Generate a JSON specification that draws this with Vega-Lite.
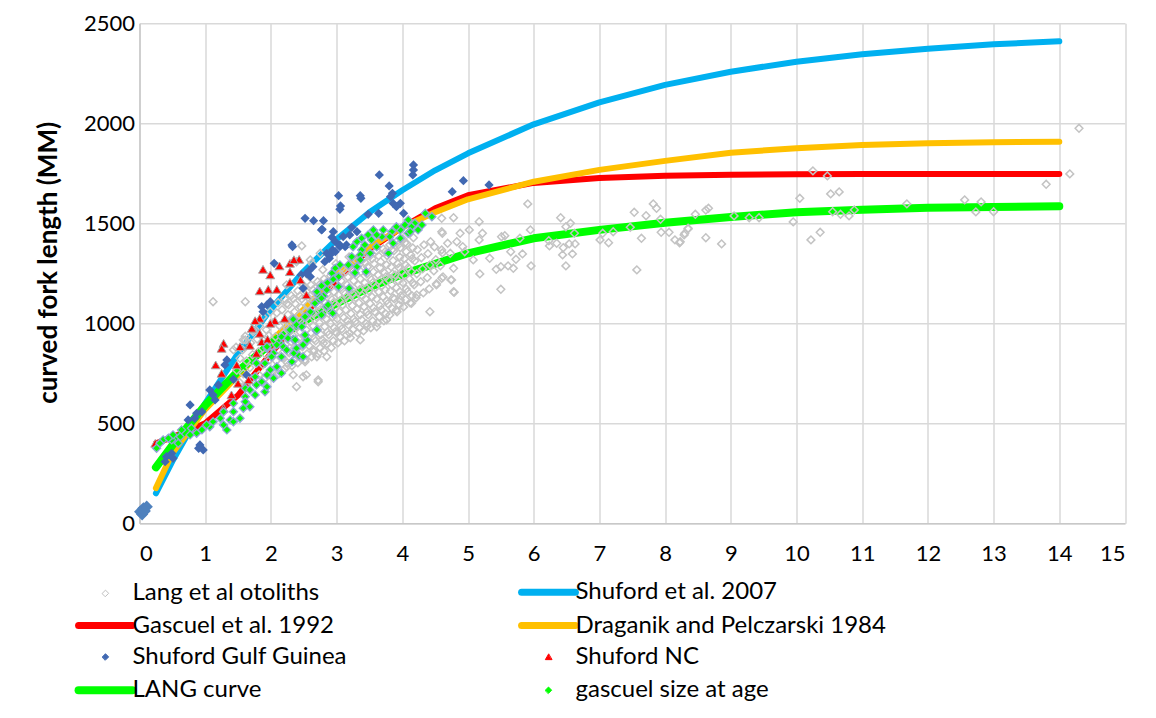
{
"$schema":"https://vega.github.io/schema/vega-lite/v6.json",
"width":985.5,"height":500,
"autosize":{"type":"none"},
"padding":{"left":139.5,"top":23.3,"right":31,"bottom":194.7},
"background":"#ffffff",
"config":{"font":"Lato","view":{"stroke":null},
"axis":{"grid":true,"gridColor":"#d9d9d9","gridWidth":1.5,"domainColor":"#c8c8c8","domainWidth":1.5,"ticks":false,"labelFontSize":22,"labelColor":"#000000","labelFont":"Lato"}},
"datasets":{
"lines":[
{"s":"Shuford et al. 2007","age":0.25,"fl":150},{"s":"Shuford et al. 2007","age":0.5,"fl":310},{"s":"Shuford et al. 2007","age":1,"fl":600},{"s":"Shuford et al. 2007","age":1.5,"fl":850},{"s":"Shuford et al. 2007","age":2,"fl":1070},{"s":"Shuford et al. 2007","age":2.5,"fl":1260},{"s":"Shuford et al. 2007","age":3,"fl":1420},{"s":"Shuford et al. 2007","age":3.5,"fl":1555},{"s":"Shuford et al. 2007","age":4,"fl":1665},{"s":"Shuford et al. 2007","age":4.5,"fl":1765},{"s":"Shuford et al. 2007","age":5,"fl":1850},{"s":"Shuford et al. 2007","age":6,"fl":1995},{"s":"Shuford et al. 2007","age":7,"fl":2105},{"s":"Shuford et al. 2007","age":8,"fl":2192},{"s":"Shuford et al. 2007","age":9,"fl":2258},{"s":"Shuford et al. 2007","age":10,"fl":2308},{"s":"Shuford et al. 2007","age":11,"fl":2345},{"s":"Shuford et al. 2007","age":12,"fl":2373},{"s":"Shuford et al. 2007","age":13,"fl":2395},{"s":"Shuford et al. 2007","age":14,"fl":2410},
{"s":"Gascuel et al. 1992","age":0.25,"fl":400},{"s":"Gascuel et al. 1992","age":0.5,"fl":430},{"s":"Gascuel et al. 1992","age":1,"fl":500},{"s":"Gascuel et al. 1992","age":1.5,"fl":640},{"s":"Gascuel et al. 1992","age":2,"fl":850},{"s":"Gascuel et al. 1992","age":2.5,"fl":1040},{"s":"Gascuel et al. 1992","age":3,"fl":1220},{"s":"Gascuel et al. 1992","age":3.5,"fl":1370},{"s":"Gascuel et al. 1992","age":4,"fl":1480},{"s":"Gascuel et al. 1992","age":4.5,"fl":1575},{"s":"Gascuel et al. 1992","age":5,"fl":1640},{"s":"Gascuel et al. 1992","age":6,"fl":1702},{"s":"Gascuel et al. 1992","age":7,"fl":1726},{"s":"Gascuel et al. 1992","age":8,"fl":1738},{"s":"Gascuel et al. 1992","age":9,"fl":1743},{"s":"Gascuel et al. 1992","age":10,"fl":1745},{"s":"Gascuel et al. 1992","age":11,"fl":1746},{"s":"Gascuel et al. 1992","age":12,"fl":1747},{"s":"Gascuel et al. 1992","age":13,"fl":1747},{"s":"Gascuel et al. 1992","age":14,"fl":1747},
{"s":"Draganik and Pelczarski 1984","age":0.25,"fl":176},{"s":"Draganik and Pelczarski 1984","age":0.5,"fl":350},{"s":"Draganik and Pelczarski 1984","age":1,"fl":570},{"s":"Draganik and Pelczarski 1984","age":1.5,"fl":740},{"s":"Draganik and Pelczarski 1984","age":2,"fl":910},{"s":"Draganik and Pelczarski 1984","age":2.5,"fl":1070},{"s":"Draganik and Pelczarski 1984","age":3,"fl":1240},{"s":"Draganik and Pelczarski 1984","age":3.5,"fl":1380},{"s":"Draganik and Pelczarski 1984","age":4,"fl":1480},{"s":"Draganik and Pelczarski 1984","age":4.5,"fl":1555},{"s":"Draganik and Pelczarski 1984","age":5,"fl":1620},{"s":"Draganik and Pelczarski 1984","age":6,"fl":1708},{"s":"Draganik and Pelczarski 1984","age":7,"fl":1767},{"s":"Draganik and Pelczarski 1984","age":8,"fl":1812},{"s":"Draganik and Pelczarski 1984","age":9,"fl":1853},{"s":"Draganik and Pelczarski 1984","age":10,"fl":1875},{"s":"Draganik and Pelczarski 1984","age":11,"fl":1892},{"s":"Draganik and Pelczarski 1984","age":12,"fl":1900},{"s":"Draganik and Pelczarski 1984","age":13,"fl":1905},{"s":"Draganik and Pelczarski 1984","age":14,"fl":1908},
{"s":"LANG curve","age":0.25,"fl":280},{"s":"LANG curve","age":0.5,"fl":390},{"s":"LANG curve","age":1,"fl":590},{"s":"LANG curve","age":1.5,"fl":760},{"s":"LANG curve","age":2,"fl":900},{"s":"LANG curve","age":2.5,"fl":1010},{"s":"LANG curve","age":3,"fl":1100},{"s":"LANG curve","age":3.5,"fl":1180},{"s":"LANG curve","age":4,"fl":1245},{"s":"LANG curve","age":4.5,"fl":1298},{"s":"LANG curve","age":5,"fl":1350},{"s":"LANG curve","age":6,"fl":1425},{"s":"LANG curve","age":7,"fl":1467},{"s":"LANG curve","age":8,"fl":1503},{"s":"LANG curve","age":9,"fl":1532},{"s":"LANG curve","age":10,"fl":1555},{"s":"LANG curve","age":11,"fl":1568},{"s":"LANG curve","age":12,"fl":1578},{"s":"LANG curve","age":13,"fl":1582},{"s":"LANG curve","age":14,"fl":1585}
],
"gray":[
{"age":8.46,"fl":1545},{"age":8.62,"fl":1566},{"age":8.66,"fl":1575},{"age":8.30,"fl":1450},{"age":8.35,"fl":1475},{"age":8.23,"fl":1408},{"age":8.62,"fl":1428},{"age":8.86,"fl":1397},{"age":9.05,"fl":1537},{"age":9.28,"fl":1528},{"age":9.43,"fl":1528},{"age":9.95,"fl":1507},{"age":10.05,"fl":1625},{"age":10.25,"fl":1762},{"age":10.47,"fl":1737},{"age":10.52,"fl":1647},{"age":10.65,"fl":1657},{"age":10.55,"fl":1558},{"age":10.67,"fl":1545},{"age":10.80,"fl":1537},{"age":10.88,"fl":1567},{"age":10.22,"fl":1417},{"age":10.36,"fl":1455},{"age":11.68,"fl":1597},{"age":12.56,"fl":1617},{"age":12.81,"fl":1607},{"age":12.73,"fl":1557},{"age":13.0,"fl":1558},{"age":13.80,"fl":1695},{"age":14.16,"fl":1747},{"age":14.30,"fl":1975},
{"age":5.91,"fl":1597},{"age":4.78,"fl":1528},{"age":5.17,"fl":1508},{"age":5.02,"fl":1467},{"age":5.22,"fl":1450},{"age":5.17,"fl":1417},{"age":4.61,"fl":1450},{"age":4.83,"fl":1408},{"age":4.69,"fl":1400},{"age":4.60,"fl":1367},{"age":4.73,"fl":1350},{"age":4.92,"fl":1383},{"age":5.08,"fl":1317},{"age":4.95,"fl":1358},{"age":4.78,"fl":1275},{"age":4.74,"fl":1217},{"age":4.79,"fl":1155},{"age":4.60,"fl":1225},{"age":5.18,"fl":1247},{"age":5.50,"fl":1170},{"age":5.43,"fl":1270},{"age":5.50,"fl":1283},{"age":5.65,"fl":1358},{"age":5.83,"fl":1347},{"age":5.73,"fl":1320},{"age":5.69,"fl":1275},{"age":5.61,"fl":1287},{"age":5.96,"fl":1287},{"age":5.95,"fl":1467},{"age":5.79,"fl":1425},{"age":5.51,"fl":1433},{"age":5.56,"fl":1438},{"age":5.33,"fl":1325},{"age":6.41,"fl":1528},{"age":6.56,"fl":1500},{"age":6.49,"fl":1483},{"age":6.23,"fl":1413},{"age":6.24,"fl":1387},{"age":6.35,"fl":1400},{"age":6.45,"fl":1378},{"age":6.54,"fl":1397},{"age":6.63,"fl":1397},{"age":6.59,"fl":1347},{"age":6.44,"fl":1342},{"age":6.49,"fl":1287},{"age":6.62,"fl":1450},{"age":7.01,"fl":1417},{"age":7.14,"fl":1403},{"age":7.05,"fl":1450},{"age":7.21,"fl":1458},{"age":7.47,"fl":1480},{"age":7.64,"fl":1425},{"age":7.57,"fl":1267},{"age":7.53,"fl":1555},{"age":7.71,"fl":1538},{"age":7.82,"fl":1597},{"age":7.87,"fl":1575},{"age":7.93,"fl":1520},{"age":7.94,"fl":1455},{"age":8.06,"fl":1455},{"age":8.15,"fl":1417},{"age":8.22,"fl":1403},{"age":8.29,"fl":1442},{"age":8.35,"fl":1472},
{"age":4.42,"fl":1058},{"age":4.78,"fl":1158},{"age":4.75,"fl":1217},{"age":4.52,"fl":1192},{"age":4.22,"fl":1142},{"age":4.14,"fl":1100},{"age":3.97,"fl":1117},{"age":3.91,"fl":1067},{"age":3.76,"fl":1017},{"age":3.61,"fl":983},{"age":3.46,"fl":983},{"age":3.36,"fl":917},{"age":3.20,"fl":950},{"age":3.00,"fl":950},{"age":2.80,"fl":900},{"age":2.85,"fl":833},{"age":2.65,"fl":858},{"age":2.52,"fl":808},{"age":2.49,"fl":733},{"age":2.72,"fl":717},{"age":2.34,"fl":742},{"age":1.12,"fl":1108},{"age":1.61,"fl":1108},{"age":2.39,"fl":683},{"age":2.72,"fl":708},{"age":2.54,"fl":742},{"age":2.70,"fl":833},{"age":2.24,"fl":783},{"age":1.58,"fl":917},{"age":1.43,"fl":867},{"age":2.75,"fl":1350},{"age":2.47,"fl":1387},{"age":2.60,"fl":1317},{"age":4.60,"fl":1525},{"age":4.6,"fl":1458},{"age":4.88,"fl":1450},{"age":2.62,"fl":1300},{"age":2.49,"fl":1192},{"age":2.24,"fl":1192},{"age":1.61,"fl":917},{"age":1.73,"fl":967},{"age":2.39,"fl":1308},
{"age":1.52,"fl":705},{"age":1.48,"fl":765},{"age":1.53,"fl":825},{"age":1.47,"fl":880},
{"age":1.62,"fl":690},{"age":1.58,"fl":748},{"age":1.63,"fl":812},{"age":1.57,"fl":868},{"age":1.61,"fl":935},
{"age":1.71,"fl":722},{"age":1.68,"fl":778},{"age":1.72,"fl":843},{"age":1.69,"fl":902},{"age":1.73,"fl":958},
{"age":1.82,"fl":742},{"age":1.78,"fl":803},{"age":1.81,"fl":858},{"age":1.79,"fl":921},{"age":1.83,"fl":985},
{"age":1.92,"fl":728},{"age":1.88,"fl":792},{"age":1.91,"fl":847},{"age":1.89,"fl":913},{"age":1.93,"fl":968},{"age":1.88,"fl":1032},
{"age":2.02,"fl":762},{"age":1.98,"fl":818},{"age":2.01,"fl":884},{"age":1.97,"fl":938},{"age":2.03,"fl":1002},{"age":1.99,"fl":1058},
{"age":2.12,"fl":748},{"age":2.08,"fl":812},{"age":2.11,"fl":868},{"age":2.07,"fl":933},{"age":2.13,"fl":988},{"age":2.09,"fl":1052},{"age":2.11,"fl":1103},
{"age":2.21,"fl":772},{"age":2.18,"fl":828},{"age":2.22,"fl":893},{"age":2.19,"fl":948},{"age":2.23,"fl":1012},{"age":2.17,"fl":1068},{"age":2.21,"fl":1122},
{"age":2.32,"fl":788},{"age":2.28,"fl":853},{"age":2.31,"fl":908},{"age":2.29,"fl":972},{"age":2.33,"fl":1028},{"age":2.27,"fl":1092},{"age":2.31,"fl":1138},
{"age":2.41,"fl":802},{"age":2.38,"fl":858},{"age":2.42,"fl":923},{"age":2.39,"fl":978},{"age":2.43,"fl":1042},{"age":2.37,"fl":1098},{"age":2.41,"fl":1162},
{"age":2.52,"fl":818},{"age":2.48,"fl":883},{"age":2.51,"fl":938},{"age":2.49,"fl":1003},{"age":2.53,"fl":1058},{"age":2.47,"fl":1122},{"age":2.51,"fl":1178},
{"age":2.62,"fl":832},{"age":2.58,"fl":888},{"age":2.61,"fl":953},{"age":2.59,"fl":1008},{"age":2.63,"fl":1072},{"age":2.57,"fl":1128},{"age":2.61,"fl":1192},{"age":2.59,"fl":1232},
{"age":2.72,"fl":848},{"age":2.68,"fl":912},{"age":2.71,"fl":968},{"age":2.69,"fl":1032},{"age":2.73,"fl":1088},{"age":2.67,"fl":1152},{"age":2.71,"fl":1208},
{"age":2.81,"fl":862},{"age":2.78,"fl":918},{"age":2.82,"fl":983},{"age":2.79,"fl":1038},{"age":2.83,"fl":1102},{"age":2.77,"fl":1158},{"age":2.81,"fl":1222},{"age":2.79,"fl":1268},
{"age":2.92,"fl":878},{"age":2.88,"fl":943},{"age":2.91,"fl":998},{"age":2.89,"fl":1062},{"age":2.93,"fl":1118},{"age":2.87,"fl":1182},{"age":2.91,"fl":1238},
{"age":3.02,"fl":902},{"age":2.98,"fl":958},{"age":3.01,"fl":1022},{"age":2.99,"fl":1078},{"age":3.03,"fl":1142},{"age":2.97,"fl":1198},{"age":3.01,"fl":1262},{"age":2.99,"fl":1298},
{"age":3.12,"fl":912},{"age":3.08,"fl":972},{"age":3.11,"fl":1028},{"age":3.09,"fl":1092},{"age":3.13,"fl":1148},{"age":3.07,"fl":1212},{"age":3.11,"fl":1268},
{"age":3.21,"fl":928},{"age":3.18,"fl":992},{"age":3.22,"fl":1048},{"age":3.19,"fl":1112},{"age":3.23,"fl":1168},{"age":3.17,"fl":1232},{"age":3.21,"fl":1288},{"age":3.19,"fl":1332},
{"age":3.32,"fl":952},{"age":3.28,"fl":1008},{"age":3.31,"fl":1072},{"age":3.29,"fl":1128},{"age":3.33,"fl":1192},{"age":3.27,"fl":1248},{"age":3.31,"fl":1312},
{"age":3.41,"fl":962},{"age":3.38,"fl":1018},{"age":3.42,"fl":1082},{"age":3.39,"fl":1138},{"age":3.43,"fl":1202},{"age":3.37,"fl":1258},{"age":3.41,"fl":1322},{"age":3.39,"fl":1352},
{"age":3.52,"fl":978},{"age":3.48,"fl":1042},{"age":3.51,"fl":1098},{"age":3.49,"fl":1162},{"age":3.53,"fl":1218},{"age":3.47,"fl":1282},{"age":3.51,"fl":1338},
{"age":3.62,"fl":1002},{"age":3.58,"fl":1058},{"age":3.61,"fl":1122},{"age":3.59,"fl":1178},{"age":3.63,"fl":1242},{"age":3.57,"fl":1298},{"age":3.61,"fl":1362},
{"age":3.72,"fl":1012},{"age":3.68,"fl":1068},{"age":3.71,"fl":1132},{"age":3.69,"fl":1188},{"age":3.73,"fl":1252},{"age":3.67,"fl":1308},{"age":3.71,"fl":1372},
{"age":3.81,"fl":1042},{"age":3.78,"fl":1098},{"age":3.82,"fl":1162},{"age":3.79,"fl":1218},{"age":3.83,"fl":1282},{"age":3.77,"fl":1338},{"age":3.81,"fl":1392},
{"age":3.92,"fl":1058},{"age":3.88,"fl":1122},{"age":3.91,"fl":1178},{"age":3.89,"fl":1242},{"age":3.93,"fl":1298},{"age":3.87,"fl":1362},{"age":3.91,"fl":1408},
{"age":4.02,"fl":1082},{"age":3.98,"fl":1138},{"age":4.01,"fl":1202},{"age":3.99,"fl":1258},{"age":4.03,"fl":1322},{"age":3.97,"fl":1378},{"age":4.01,"fl":1422},
{"age":4.12,"fl":1102},{"age":4.08,"fl":1158},{"age":4.11,"fl":1222},{"age":4.09,"fl":1278},{"age":4.13,"fl":1342},{"age":4.07,"fl":1398},
{"age":4.21,"fl":1128},{"age":4.18,"fl":1192},{"age":4.22,"fl":1248},{"age":4.19,"fl":1312},{"age":4.23,"fl":1368},{"age":4.17,"fl":1428},
{"age":4.32,"fl":1152},{"age":4.28,"fl":1208},{"age":4.31,"fl":1272},{"age":4.29,"fl":1328},{"age":4.33,"fl":1392},
{"age":4.41,"fl":1172},{"age":4.38,"fl":1228},{"age":4.42,"fl":1292},{"age":4.39,"fl":1348},{"age":4.43,"fl":1408},
{"age":4.52,"fl":1198},{"age":4.48,"fl":1262},{"age":4.51,"fl":1318},{"age":4.49,"fl":1382},
{"age":4.62,"fl":1232},{"age":4.58,"fl":1288},{"age":4.61,"fl":1352},
{"age":2.25,"fl":803},{"age":2.26,"fl":857},{"age":2.24,"fl":924},{"age":2.25,"fl":977},{"age":2.26,"fl":1043},{"age":2.24,"fl":1097},
{"age":2.35,"fl":815},{"age":2.36,"fl":878},{"age":2.34,"fl":937},{"age":2.35,"fl":1004},{"age":2.36,"fl":1057},{"age":2.34,"fl":1123},
{"age":2.45,"fl":833},{"age":2.46,"fl":887},{"age":2.44,"fl":958},{"age":2.45,"fl":1012},{"age":2.46,"fl":1078},{"age":2.44,"fl":1137},
{"age":2.55,"fl":847},{"age":2.56,"fl":913},{"age":2.54,"fl":967},{"age":2.55,"fl":1034},{"age":2.56,"fl":1092},{"age":2.54,"fl":1158},
{"age":2.65,"fl":868},{"age":2.66,"fl":922},{"age":2.64,"fl":988},{"age":2.65,"fl":1047},{"age":2.66,"fl":1113},{"age":2.64,"fl":1167},
{"age":2.75,"fl":877},{"age":2.76,"fl":943},{"age":2.74,"fl":1002},{"age":2.75,"fl":1068},{"age":2.76,"fl":1122},{"age":2.74,"fl":1193},
{"age":2.85,"fl":898},{"age":2.86,"fl":957},{"age":2.84,"fl":1023},{"age":2.85,"fl":1077},{"age":2.86,"fl":1148},{"age":2.84,"fl":1202},
{"age":2.95,"fl":912},{"age":2.96,"fl":978},{"age":2.94,"fl":1032},{"age":2.95,"fl":1103},{"age":2.96,"fl":1157},{"age":2.94,"fl":1223},
{"age":3.05,"fl":933},{"age":3.06,"fl":987},{"age":3.04,"fl":1058},{"age":3.05,"fl":1112},{"age":3.06,"fl":1178},{"age":3.04,"fl":1237},
{"age":3.15,"fl":942},{"age":3.16,"fl":1013},{"age":3.14,"fl":1067},{"age":3.15,"fl":1133},{"age":3.16,"fl":1192},{"age":3.14,"fl":1258},
{"age":3.25,"fl":968},{"age":3.26,"fl":1022},{"age":3.24,"fl":1088},{"age":3.25,"fl":1147},{"age":3.26,"fl":1213},{"age":3.24,"fl":1267},
{"age":3.35,"fl":977},{"age":3.36,"fl":1043},{"age":3.34,"fl":1102},{"age":3.35,"fl":1168},{"age":3.36,"fl":1222},{"age":3.34,"fl":1293},
{"age":3.45,"fl":998},{"age":3.46,"fl":1057},{"age":3.44,"fl":1123},{"age":3.45,"fl":1177},{"age":3.46,"fl":1248},{"age":3.44,"fl":1302},
{"age":3.55,"fl":1012},{"age":3.56,"fl":1078},{"age":3.54,"fl":1132},{"age":3.55,"fl":1203},{"age":3.56,"fl":1257},{"age":3.54,"fl":1323},
{"age":3.65,"fl":1033},{"age":3.66,"fl":1087},{"age":3.64,"fl":1158},{"age":3.65,"fl":1212},{"age":3.66,"fl":1278},{"age":3.64,"fl":1337},
{"age":3.75,"fl":1047},{"age":3.76,"fl":1113},{"age":3.74,"fl":1167},{"age":3.75,"fl":1233},{"age":3.76,"fl":1292},{"age":3.74,"fl":1358},
{"age":3.85,"fl":1073},{"age":3.86,"fl":1127},{"age":3.84,"fl":1193},{"age":3.85,"fl":1247},{"age":3.86,"fl":1313},{"age":3.84,"fl":1367},
{"age":3.95,"fl":1092},{"age":3.96,"fl":1158},{"age":3.94,"fl":1212},{"age":3.95,"fl":1278},{"age":3.96,"fl":1332},{"age":3.94,"fl":1393},
{"age":4.05,"fl":1118},{"age":4.06,"fl":1172},{"age":4.04,"fl":1238},{"age":4.05,"fl":1292},{"age":4.06,"fl":1358},{"age":4.04,"fl":1402},
{"age":4.15,"fl":1137},{"age":4.16,"fl":1203},{"age":4.14,"fl":1257},{"age":4.15,"fl":1323},{"age":4.16,"fl":1377}
],
"blue":[
{"age":4.17,"fl":1792},{"age":4.17,"fl":1767},{"age":4.16,"fl":1742},{"age":3.65,"fl":1742},{"age":3.80,"fl":1687},{"age":3.85,"fl":1650},{"age":3.82,"fl":1633},{"age":3.97,"fl":1600},{"age":3.86,"fl":1600},{"age":4.02,"fl":1550},{"age":3.64,"fl":1550},{"age":3.48,"fl":1545},{"age":3.36,"fl":1638},{"age":3.37,"fl":1625},{"age":3.03,"fl":1638},{"age":3.06,"fl":1587},{"age":3.05,"fl":1570},{"age":2.52,"fl":1525},{"age":2.65,"fl":1513},{"age":2.80,"fl":1513},{"age":2.78,"fl":1470},{"age":2.95,"fl":1458},{"age":2.93,"fl":1430},{"age":2.98,"fl":1408},{"age":3.10,"fl":1433},{"age":3.23,"fl":1480},{"age":3.31,"fl":1458},{"age":3.13,"fl":1383},{"age":3.05,"fl":1383},{"age":2.94,"fl":1367},{"age":2.85,"fl":1350},{"age":2.89,"fl":1325},{"age":2.33,"fl":1383},{"age":2.64,"fl":1283},{"age":2.58,"fl":1263},{"age":4.76,"fl":1658},{"age":4.93,"fl":1713},{"age":2.46,"fl":1242},{"age":5.32,"fl":1692},{"age":3.91,"fl":1583},
{"age":2.05,"fl":1300},{"age":2.77,"fl":1467},{"age":2.90,"fl":1342},{"age":2.98,"fl":1358},{"age":3.05,"fl":1392},{"age":2.82,"fl":1308},{"age":2.60,"fl":1233},{"age":2.54,"fl":1250},{"age":2.49,"fl":1175},{"age":1.86,"fl":1083},{"age":1.94,"fl":1092},{"age":1.99,"fl":1108},{"age":1.88,"fl":1058},{"age":3.15,"fl":1392},{"age":3.20,"fl":1442},
{"age":1.33,"fl":817},{"age":1.30,"fl":792},{"age":1.63,"fl":742},{"age":1.43,"fl":720},{"age":1.20,"fl":692},{"age":1.07,"fl":667},{"age":1.15,"fl":617},{"age":1.12,"fl":642},{"age":0.77,"fl":592},{"age":0.95,"fl":558},{"age":0.87,"fl":550},{"age":0.74,"fl":517},{"age":0.84,"fl":525},{"age":0.92,"fl":392},{"age":0.97,"fl":367},{"age":0.90,"fl":375},{"age":0.49,"fl":350},{"age":0.41,"fl":333},{"age":0.39,"fl":308},{"age":0.51,"fl":325},{"age":2.32,"fl":1392}
],
"origin":[
{"age":0.06,"fl":75},{"age":0.01,"fl":58},{"age":0.11,"fl":83},{"age":0.04,"fl":45},{"age":0.08,"fl":62}
],
"red":[
{"age":1.88,"fl":1270},{"age":1.99,"fl":1242},{"age":2.13,"fl":1287},{"age":2.29,"fl":1300},{"age":2.43,"fl":1320},{"age":2.29,"fl":1258},{"age":2.29,"fl":1205},{"age":2.45,"fl":1217},{"age":1.83,"fl":1162},{"age":1.96,"fl":1170},{"age":2.09,"fl":1170},{"age":2.54,"fl":1142},{"age":1.83,"fl":1025},{"age":1.76,"fl":1013},{"age":1.71,"fl":975},{"age":2.06,"fl":1013},{"age":2.21,"fl":1025},{"age":1.99,"fl":1000},{"age":1.28,"fl":900},{"age":1.25,"fl":875},{"age":1.53,"fl":883},{"age":1.67,"fl":892},{"age":1.86,"fl":908},{"age":1.95,"fl":920},{"age":1.83,"fl":950},{"age":1.16,"fl":792},{"age":1.48,"fl":792},{"age":1.66,"fl":717},{"age":1.50,"fl":700},{"age":1.25,"fl":750},{"age":1.40,"fl":642},{"age":1.28,"fl":575},{"age":0.24,"fl":400},{"age":1.68,"fl":890},{"age":1.78,"fl":850},{"age":2.35,"fl":1318}
],
"green":[
{"age":4.35,"fl":1550},{"age":4.45,"fl":1533},{"age":4.09,"fl":1517},{"age":4.19,"fl":1500},{"age":4.30,"fl":1492},{"age":4.24,"fl":1467},{"age":4.04,"fl":1492},{"age":3.97,"fl":1467},{"age":3.91,"fl":1483},{"age":3.84,"fl":1458},{"age":3.81,"fl":1433},{"age":3.71,"fl":1467},{"age":3.69,"fl":1433},{"age":3.56,"fl":1467},{"age":3.61,"fl":1442},{"age":3.48,"fl":1442},{"age":3.53,"fl":1417},{"age":3.86,"fl":1400},{"age":3.97,"fl":1425},{"age":4.09,"fl":1450},{"age":3.38,"fl":1425},{"age":3.31,"fl":1408},{"age":3.43,"fl":1392},{"age":3.25,"fl":1383},{"age":3.38,"fl":1367},{"age":3.61,"fl":1383},{"age":3.79,"fl":1350},{"age":3.51,"fl":1350},{"age":3.36,"fl":1342},{"age":3.23,"fl":1333},{"age":3.18,"fl":1292},{"age":3.31,"fl":1283},{"age":3.36,"fl":1317},{"age":3.05,"fl":1292},{"age":2.98,"fl":1275},{"age":2.93,"fl":1250},{"age":3.03,"fl":1233},{"age":4.14,"fl":1483},{"age":4.12,"fl":1458},
{"age":3.28,"fl":1253},{"age":3.45,"fl":1258},{"age":3.19,"fl":1175},{"age":2.86,"fl":1203},{"age":2.77,"fl":1187},{"age":2.80,"fl":1137},{"age":2.70,"fl":1108},{"age":2.85,"fl":1083},{"age":2.94,"fl":1050},{"age":2.77,"fl":1042},{"age":2.60,"fl":1058},{"age":2.52,"fl":1033},{"age":2.69,"fl":963},{"age":2.34,"fl":1020},{"age":2.39,"fl":992},{"age":2.34,"fl":920},{"age":2.55,"fl":917},{"age":2.35,"fl":850},{"age":2.43,"fl":837},{"age":2.72,"fl":1142},
{"age":2.70,"fl":1158},{"age":2.85,"fl":1167},{"age":3.03,"fl":1183},{"age":2.77,"fl":1125},{"age":2.67,"fl":1100},{"age":2.87,"fl":1092},{"age":2.47,"fl":983},{"age":2.70,"fl":967},{"age":2.29,"fl":967},{"age":2.16,"fl":933},{"age":2.26,"fl":925},{"age":2.37,"fl":917},{"age":2.52,"fl":942},{"age":2.49,"fl":892},{"age":2.16,"fl":892},{"age":1.94,"fl":875},{"age":2.04,"fl":850},{"age":2.95,"fl":1220},
{"age":1.94,"fl":883},{"age":2.09,"fl":892},{"age":2.19,"fl":883},{"age":2.01,"fl":833},{"age":2.16,"fl":833},{"age":2.09,"fl":783},{"age":1.99,"fl":767},{"age":1.91,"fl":800},{"age":1.86,"fl":708},{"age":2.04,"fl":725},{"age":1.94,"fl":742},{"age":1.78,"fl":692},{"age":1.61,"fl":675},{"age":1.76,"fl":642},{"age":1.91,"fl":658},{"age":1.61,"fl":633},{"age":1.68,"fl":583},{"age":1.58,"fl":575},{"age":1.43,"fl":558},{"age":1.53,"fl":525},{"age":1.38,"fl":517},{"age":1.23,"fl":525},{"age":1.28,"fl":492},{"age":1.07,"fl":483},{"age":1.12,"fl":508},{"age":0.95,"fl":467},{"age":0.79,"fl":475},{"age":0.77,"fl":442},{"age":0.62,"fl":433},{"age":0.64,"fl":467},{"age":0.49,"fl":417},{"age":0.36,"fl":417},{"age":0.31,"fl":400},{"age":0.26,"fl":375},{"age":0.59,"fl":400},{"age":0.51,"fl":442},{"age":0.44,"fl":425},{"age":0.87,"fl":450},{"age":1.02,"fl":492},{"age":1.33,"fl":467},{"age":1.43,"fl":508},{"age":1.68,"fl":667},{"age":1.76,"fl":733},{"age":1.43,"fl":600},{"age":1.28,"fl":558},{"age":1.61,"fl":608},{"age":2.16,"fl":750},{"age":2.32,"fl":808},{"age":2.24,"fl":867},{"age":2.39,"fl":875},{"age":2.49,"fl":833},{"age":1.94,"fl":683},{"age":1.78,"fl":800}
]
},
"encoding":{
"x":{"field":"age","type":"quantitative","scale":{"domain":[0,15],"nice":false},"axis":{"values":[0,1,2,3,4,5,6,7,8,9,10,11,12,13,14,15],"title":null,"labelPadding":20,"format":"d"}},
"y":{"field":"fl","type":"quantitative","scale":{"domain":[0,2500],"nice":false},"axis":{"values":[0,500,1000,1500,2000,2500],"format":"d","title":"curved fork length (MM)","titleFontSize":26,"titleFontWeight":"bold","titleColor":"#000000","titleFont":"Lato","titlePadding":22,"titleY":239,"labelPadding":5}}
},
"layer":[
{"data":{"name":"lines"},"transform":[{"filter":"datum.s == 'Shuford et al. 2007'"}],
"mark":{"type":"line","strokeWidth":6,"strokeCap":"round","strokeJoin":"round"},
"encoding":{"color":{"field":"s","type":"nominal",
"scale":{"domain":["Lang et al otoliths","Shuford et al. 2007","Gascuel et al. 1992","Draganik and Pelczarski 1984","Shuford Gulf Guinea","Shuford NC","LANG curve","gascuel size at age"],"range":["#bfbfbf","#00b0f0","#ff0000","#ffc000","#4068b2","#ff0000","#00ff00","#00ff00"]},
"legend":{"title":null,"orient":"none","direction":"horizontal","legendX":-64,"legendY":557,"columns":2,"symbolSize":100,"symbolOffset":18,"labelOffset":15,"labelFontSize":24,"labelColor":"#000000","labelFont":"Lato","rowPadding":5.3,"columnPadding":160,"labelLimit":500,
"encode":{"symbols":{"update":{
"shape":{"signal":"indexof(['Shuford et al. 2007','Gascuel et al. 1992','Draganik and Pelczarski 1984','LANG curve'], datum.value) >= 0 ? 'stroke' : (datum.value == 'Shuford NC' ? 'triangle-up' : 'diamond')"},
"size":{"signal":"indexof(['Shuford et al. 2007','Gascuel et al. 1992','Draganik and Pelczarski 1984','LANG curve'], datum.value) >= 0 ? 2900 : 40"},
"strokeWidth":{"signal":"datum.value == 'LANG curve' ? 8 : (indexof(['Shuford et al. 2007','Gascuel et al. 1992','Draganik and Pelczarski 1984'], datum.value) >= 0 ? 7 : 1)"},
"stroke":{"signal":"datum.value == 'Lang et al otoliths' ? '#bfbfbf' : datum.value == 'Shuford et al. 2007' ? '#00b0f0' : datum.value == 'Gascuel et al. 1992' ? '#ff0000' : datum.value == 'Draganik and Pelczarski 1984' ? '#ffc000' : datum.value == 'LANG curve' ? '#00ff00' : datum.value == 'Shuford NC' ? '#a6a6a6' : datum.value == 'gascuel size at age' ? '#8fa6d6' : '#4068b2'"},
"fill":{"signal":"datum.value == 'Shuford Gulf Guinea' ? '#4068b2' : datum.value == 'Shuford NC' ? '#ff0000' : datum.value == 'gascuel size at age' ? '#00ff00' : 'transparent'"},
"opacity":{"value":1},"fillOpacity":{"value":1},"strokeOpacity":{"value":1},"strokeCap":{"value":"round"}
}}}}}}},
{"data":{"name":"lines"},"transform":[{"filter":"datum.s == 'Gascuel et al. 1992'"}],
"mark":{"type":"line","strokeWidth":6,"strokeCap":"round","strokeJoin":"round"},
"encoding":{"color":{"field":"s","type":"nominal","legend":null}}},
{"data":{"name":"lines"},"transform":[{"filter":"datum.s == 'Draganik and Pelczarski 1984'"}],
"mark":{"type":"line","strokeWidth":6,"strokeCap":"round","strokeJoin":"round"},
"encoding":{"color":{"field":"s","type":"nominal","legend":null}}},
{"data":{"name":"lines"},"transform":[{"filter":"datum.s == 'LANG curve'"}],
"mark":{"type":"line","strokeWidth":8,"strokeCap":"round","strokeJoin":"round"},
"encoding":{"color":{"field":"s","type":"nominal","legend":null}}},
{"data":{"name":"gray"},"mark":{"type":"point","shape":"diamond","filled":false,"stroke":"#c3c3c3","strokeWidth":1.5,"size":60,"opacity":1}},
{"data":{"name":"origin"},"mark":{"type":"point","shape":"diamond","filled":true,"fill":"#4f81bd","strokeWidth":0,"size":150,"opacity":1}},
{"data":{"name":"blue"},"mark":{"type":"point","shape":"diamond","filled":true,"fill":"#4068b2","strokeWidth":0,"size":85,"opacity":1}},
{"data":{"name":"red"},"mark":{"type":"point","shape":"triangle-up","filled":true,"fill":"#ff0000","stroke":"#a6a6a6","strokeWidth":1,"size":80,"opacity":1}},
{"data":{"name":"green"},"mark":{"type":"point","shape":"diamond","filled":true,"fill":"#00ff00","stroke":"#8fa6d6","strokeWidth":1.3,"size":65,"opacity":1}}
]
}
